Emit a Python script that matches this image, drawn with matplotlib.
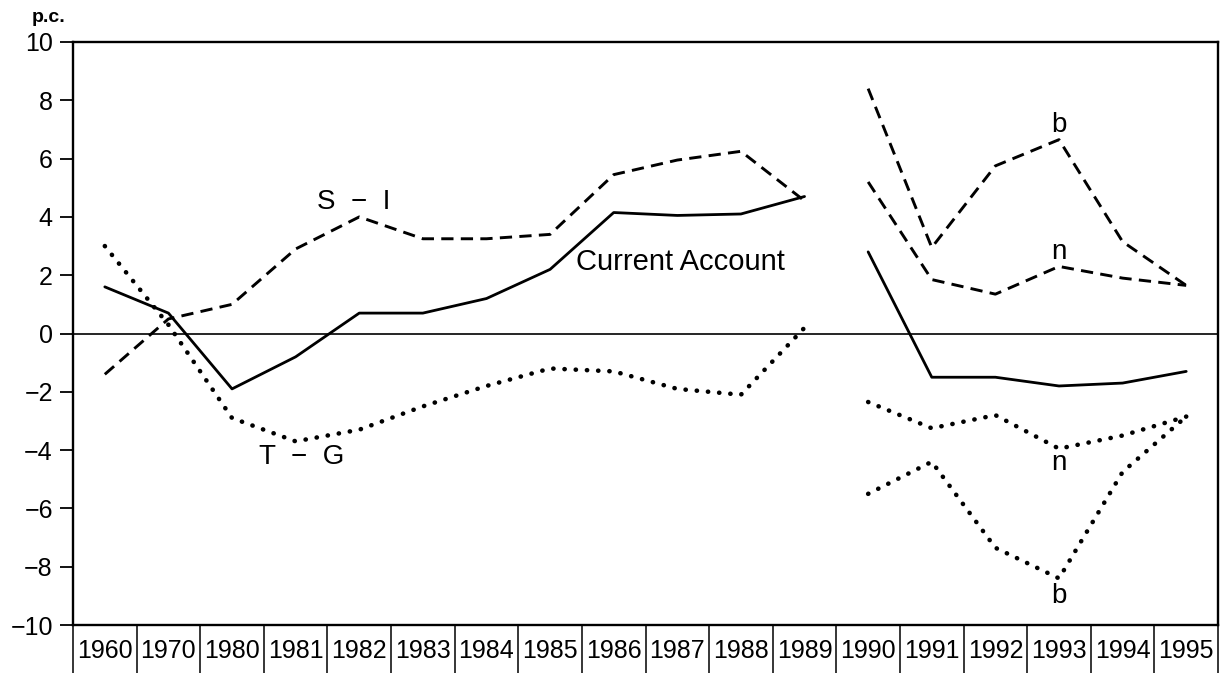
import numpy as np
import matplotlib.pyplot as plt
from matplotlib.transforms import blended_transform_factory

# =========================
# 1. DATA
# =========================

years = ["1960", "1970", "1980", "1981", "1982", "1983", "1984", "1985", "1986",
         "1987", "1988", "1989", "1990", "1991", "1992", "1993", "1994", "1995"]

# history 1960-1989
current_account = [1.6, 0.7, -1.9, -0.8, 0.7, 0.7, 1.2, 2.2, 4.15, 4.05, 4.1, 4.7]
s_minus_i = [-1.4, 0.5, 1.0, 2.9, 4.0, 3.25, 3.25, 3.4, 5.45, 5.95, 6.25, 4.55]
t_minus_g = [3.0, 0.3, -2.9, -3.7, -3.3, -2.5, -1.8, -1.2, -1.3, -1.9, -2.1, 0.2]

# projections 1990-1995
current_account_proj = [2.8, -1.5, -1.5, -1.8, -1.7, -1.3]
s_minus_i_b = [8.4, 2.95, 5.75, 6.65, 3.15, 1.65]
s_minus_i_n = [5.2, 1.85, 1.35, 2.3, 1.9, 1.65]
t_minus_g_n = [-2.35, -3.25, -2.8, -3.95, -3.5, -2.85]
t_minus_g_b = [-5.5, -4.4, -7.35, -8.4, -4.75, -2.85]

y_ticks = [-10, -8, -6, -4, -2, 0, 2, 4, 6, 8, 10]

# =========================
# 2. FIGURE
# =========================

plt.rcParams["font.family"] = ["Liberation Sans", "DejaVu Sans"]

fig = plt.figure(figsize=(12.25, 6.73), dpi=100)
ax = fig.add_axes([0.0596, 0.0713, 0.9347, 0.8663])

x_hist = np.arange(len(current_account)) + 0.5
x_proj = np.arange(len(current_account), len(years)) + 0.5

solid = dict(color="black", lw=2.0, solid_capstyle="round", solid_joinstyle="round")
dashed = dict(color="black", lw=2.1, linestyle=(0, (4.2, 2.5)), dash_capstyle="butt")
dotted = dict(color="black", lw=3.3, linestyle=(0, (0.05, 2.4)), dash_capstyle="round")

ax.plot(x_hist, current_account, **solid)
ax.plot(x_proj, current_account_proj, **solid)
ax.plot(x_hist, s_minus_i, **dashed)
ax.plot(x_proj, s_minus_i_b, **dashed)
ax.plot(x_proj, s_minus_i_n, **dashed)
ax.plot(x_hist, t_minus_g, **dotted)
ax.plot(x_proj, t_minus_g_n, **dotted)
ax.plot(x_proj, t_minus_g_b, **dotted)

ax.axhline(0, color="black", lw=1.2)

# =========================
# 3. AXES
# =========================

ax.set_xlim(0, len(years))
ax.set_ylim(-10, 10)
ax.set_yticks(y_ticks)
ax.set_yticklabels(["\u2212" + str(-v) if v < 0 else str(v) for v in y_ticks])
ax.tick_params(axis="y", direction="out", length=9.5, width=1.3, pad=5, labelsize=18)
ax.set_xticks([])

for side in ["left", "right", "top", "bottom"]:
    ax.spines[side].set_linewidth(1.7)

# year cells under the axis
trans = blended_transform_factory(ax.transData, ax.transAxes)
for i in range(len(years) + 1):
    ax.plot([i, i], [0, -0.085], transform=trans, color="black", lw=1.1, clip_on=False)
for i, label in enumerate(years):
    ax.text(i + 0.5, -0.045, label, transform=trans, ha="center", va="center", fontsize=18)

# =========================
# 4. LABELS
# =========================

ax.text(4.42, 4.5, "S  \u2212  I", fontsize=20, ha="center", va="center")
ax.text(3.6, -4.25, "T  \u2212  G", fontsize=20, ha="center", va="center")
ax.text(9.55, 2.45, "Current Account", fontsize=21, ha="center", va="center")
ax.text(15.5, 7.15, "b", fontsize=20, ha="center", va="center")
ax.text(15.5, 2.8, "n", fontsize=20, ha="center", va="center")
ax.text(15.5, -4.45, "n", fontsize=20, ha="center", va="center")
ax.text(15.5, -9.0, "b", fontsize=20, ha="center", va="center")

fig.text(49 / 1225, 1 - 18 / 673, "p.c.", fontsize=14, fontweight="bold", ha="center", va="center")

fig.savefig("out.png", dpi=100)
